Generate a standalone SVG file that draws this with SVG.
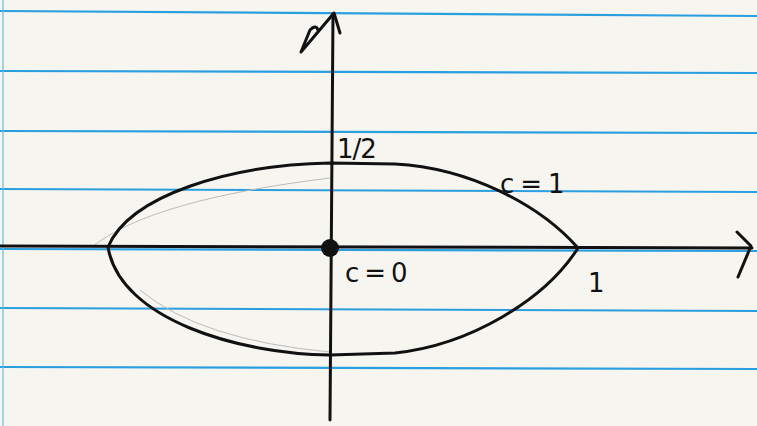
<svg xmlns="http://www.w3.org/2000/svg" width="757" height="426" viewBox="0 0 757 426">
<style>
.rule{stroke:#2a9fe0;stroke-width:2.2;fill:none}
.ink{stroke:#111;stroke-width:3;fill:none;stroke-linecap:round;stroke-linejoin:round}
.pencil{stroke:#bbb;stroke-width:1;fill:none}
.lbl{font-family:"DejaVu Sans",sans-serif;font-size:26px;fill:#111}
</style>
<rect width="757" height="426" fill="#f6f5ef"/>
<g id="paper">
<path class="rule" d="M0 11 L757 16"/>
<path class="rule" d="M0 71 L757 73"/>
<path class="rule" d="M0 131 L757 133"/>
<path class="rule" d="M0 189 L757 192"/>
<path class="rule" d="M0 249 L757 251"/>
<path class="rule" d="M0 308 L757 311"/>
<path class="rule" d="M0 367 L757 369"/>
<path d="M3 0 L3 426" stroke="#6cbbe6" stroke-width="1.2"/>
</g>
<g id="pencil-marks">
<path class="pencil" d="M92 247 Q150 200 330 178"/>
<path class="pencil" d="M140 290 Q200 340 330 352"/>
</g>
<g id="connectors">
<path class="ink" d="M330 420 L333 14"/>
<path class="ink" d="M301 52 L334 13 L340 33 M301 52 L310 30 Q316 24 318 30"/>
<path class="ink" d="M0 246 L752 248"/>
<path class="ink" d="M737 232 L751 246 L738 277"/>
</g>
<g id="curve">
<path class="ink" d="M578 248 C540 205 470 168 395 164 L330 163 C230 165 130 195 108 247 C120 320 240 354 330 355 L395 353 C470 345 545 300 578 248"/>
</g>
<g id="origin">
<circle cx="330" cy="248" r="9" fill="#111"/>
</g>
<g id="labels">
<text class="lbl" x="337" y="158" letter-spacing="-1">1/2</text>
<text class="lbl" x="500" y="193" letter-spacing="6">c=1</text>
<text class="lbl" x="345" y="282" letter-spacing="5">c=0</text>
<text class="lbl" x="588" y="292">1</text>
</g>
</svg>
